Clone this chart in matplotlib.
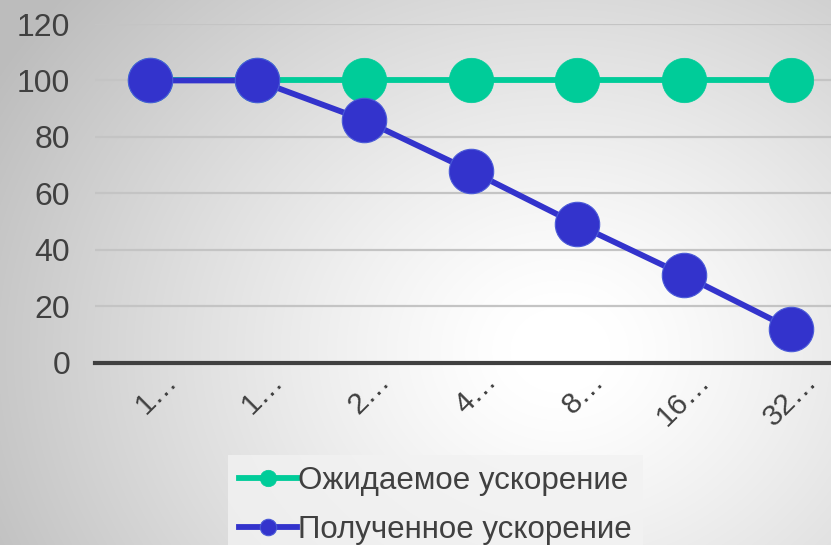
import numpy as np
import matplotlib
matplotlib.use("Agg")
import matplotlib.pyplot as plt
from matplotlib.transforms import ScaledTranslation, blended_transform_factory

categories = ["1…", "1…", "2…", "4…", "8…", "16…", "32…"]
expected = [100, 100, 100, 100, 100, 100, 100]
obtained = [100, 100, 86, 68, 49, 31, 12]
series_names = ["Ожидаемое ускорение", "Полученное ускорение"]
yticks = [0, 20, 40, 60, 80, 100, 120]

plt.rcParams['font.family'] = ['Liberation Sans', 'DejaVu Sans']

W, H = 831, 545
fig = plt.figure(figsize=(W / 100, H / 100), dpi=100)

# background radial gradient
bg = fig.add_axes([0, 0, 1, 1], zorder=-10)
yy, xx = np.mgrid[0:H, 0:W]
d = np.sqrt(((xx - 560) / 1.0) ** 2 + ((yy - 350) / 0.85) ** 2)
v = np.clip(1.0 - 0.24 * (np.clip(d - 50, 0, None) / 560) ** 1.2, 0.74, 1.0)
bg.imshow(np.dstack([v, v, v]), extent=[0, W, H, 0], aspect='auto')
bg.axis('off')

left = 95 / W
bottom = (H - 362.7) / H
width = 747 / W
height = (362.7 - 24) / H
ax = fig.add_axes([left, bottom, width, height])
ax.patch.set_alpha(0)

x = np.arange(len(categories))
ax.plot(x, expected, color='#00CC99', lw=4.2, marker='o', ms=32,
        mec='#00CC99', mew=0.5, label=series_names[0], zorder=3)
ax.plot(x, obtained, color='#3333CC', lw=4.2, marker='o', ms=32,
        mec='#4a5ad8', mew=0.8, label=series_names[1], zorder=4)

ax.set_xlim(-0.52, 6.48)
ax.set_ylim(0, 120)
ax.set_yticks(yticks)
ax.set_yticklabels([str(t) for t in yticks], fontsize=23, color='#404040')
ax.set_xticks(x)
ax.set_xticklabels([])

trans = blended_transform_factory(ax.transData, ax.transAxes) + \
    ScaledTranslation(22 / 100, -14 / 100, fig.dpi_scale_trans)
for xi, lab in zip(x, categories):
    ax.text(xi, 0, lab, transform=trans, fontsize=21.5, color='#404040',
            rotation=45, ha='right', va='center', rotation_mode='anchor',
            clip_on=False)

ax.tick_params(axis='both', length=0)
ax.tick_params(axis='y', pad=18)
ax.grid(axis='y', color='#c4c4c4', lw=1.6)
ax.set_axisbelow(True)
for s in ['top', 'right', 'left']:
    ax.spines[s].set_visible(False)
ax.spines['bottom'].set_color('#404040')
ax.spines['bottom'].set_linewidth(3)
ax.spines['bottom'].set_zorder(2)

leg = fig.legend(loc='upper left', bbox_to_anchor=(228 / W, 1 - 455 / H),
                 fontsize=22.5, frameon=True, fancybox=False, borderpad=0.35,
                 borderaxespad=0, handlelength=1.85, handletextpad=0.05,
                 labelspacing=0.62, markerscale=0.37, labelcolor='#404040')
leg.get_frame().set_facecolor('#f2f2f2')
leg.get_frame().set_edgecolor('none')
leg.get_frame().set_alpha(0.8)

fig.savefig('out.png', dpi=100)
